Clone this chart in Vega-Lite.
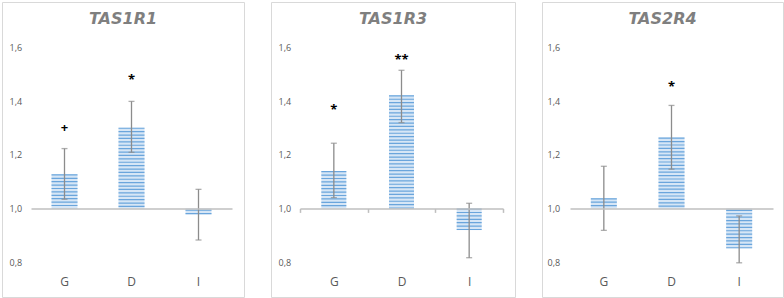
{
  "$schema": "https://vega.github.io/schema/vega-lite/v6.json",
  "padding": {"left": 1, "top": 1, "right": 0, "bottom": 0},
  "bounds": "flush",
  "spacing": 27,
  "background": "white",
  "config": {"view": {"stroke": "#d9d9d9", "strokeWidth": 1}, "font": "Open Sans",
    "axisY": {"labelExpr": "replace(format(datum.value, '.1f'), '.', ',')", "domain": false, "ticks": false, "tickSize": 0, "grid": false, "title": null, "labelAlign": "left", "labelPadding": -7, "labelFontSize": 9, "labelColor": "#595959", "labelFont": "Open Sans"}},
  "datasets": {
    "rows": [
      {"gene": "TAS1R1", "group": "G", "value": 1.127, "lo": 1.034, "hi": 1.223, "sig": "+", "sig_y": 1.285},
      {"gene": "TAS1R1", "group": "D", "value": 1.301, "lo": 1.209, "hi": 1.399, "sig": "*", "sig_y": 1.463},
      {"gene": "TAS1R1", "group": "I", "value": 0.978, "lo": 0.882, "hi": 1.071, "sig": "", "sig_y": null},
      {"gene": "TAS1R3", "group": "G", "value": 1.139, "lo": 1.04, "hi": 1.243, "sig": "*", "sig_y": 1.351},
      {"gene": "TAS1R3", "group": "D", "value": 1.422, "lo": 1.32, "hi": 1.515, "sig": "**", "sig_y": 1.54},
      {"gene": "TAS1R3", "group": "I", "value": 0.919, "lo": 0.816, "hi": 1.019, "sig": "", "sig_y": null},
      {"gene": "TAS2R4", "group": "G", "value": 1.038, "lo": 0.918, "hi": 1.157, "sig": "", "sig_y": null},
      {"gene": "TAS2R4", "group": "D", "value": 1.264, "lo": 1.146, "hi": 1.384, "sig": "*", "sig_y": 1.436},
      {"gene": "TAS2R4", "group": "I", "value": 0.851, "lo": 0.797, "hi": 0.972, "sig": "", "sig_y": null}
    ]
  },
  "hconcat": [
    {
      "width": 242, "height": 295,
      "title": {"text": "TAS1R1", "font": "DejaVu Sans", "fontSize": 16, "fontWeight": "bold", "fontStyle": "italic", "color": "#7f7f7f", "baseline": "alphabetic", "offset": -37.6, "anchor": "middle", "frame": "group"},
      "data": {"name": "rows"},
      "transform": [{"filter": "datum.gene === 'TAS1R1'"}],
      "encoding": {
        "x": {"field": "group", "type": "nominal", "sort": ["G", "D", "I"],
          "scale": {"range": [29, 230], "paddingInner": 0, "paddingOuter": 0},
          "axis": {"orient": "bottom", "offset": -88.6, "title": null, "labelAngle": 0, "domainColor": "#bfbfbf", "domainWidth": 1.5, "ticks": false, "tickSize": 0, "labelPadding": 76.6, "labelBaseline": "alphabetic", "labelFontSize": 12, "labelColor": "#595959", "labelFont": "Open Sans", "zindex": 1}}
      },
      "layer": [
        {"mark": {"type": "bar", "width": 26, "color": "#d6e6f6"},
          "encoding": {"y": {"field": "value", "type": "quantitative", "title": null, "scale": {"domain": [0.8, 1.6], "range": [260, 45.5], "zero": false, "nice": false}, "axis": {"values": [0.8, 1, 1.2, 1.4, 1.6]}},
            "y2": {"datum": 1}}},
        {"mark": {"type": "rule", "strokeWidth": 26, "strokeDash": [1.2, 2.2], "color": "#6aa5dc", "strokeCap": "butt"},
          "encoding": {"y": {"field": "value", "type": "quantitative", "title": null}, "y2": {"datum": 1}}},
        {"mark": {"type": "rule", "color": "#8c8c8c", "strokeWidth": 1.3},
          "encoding": {"y": {"field": "lo", "type": "quantitative", "title": null}, "y2": {"field": "hi"}}},
        {"mark": {"type": "tick", "color": "#8c8c8c", "thickness": 1.3, "size": 6},
          "encoding": {"y": {"field": "lo", "type": "quantitative", "title": null}}},
        {"mark": {"type": "tick", "color": "#8c8c8c", "thickness": 1.3, "size": 6},
          "encoding": {"y": {"field": "hi", "type": "quantitative", "title": null}}},
        {"transform": [{"filter": "datum.sig !== ''"}],
          "mark": {"type": "text", "font": "Open Sans", "fontWeight": "bold", "fontSize": 13, "color": "black", "baseline": "alphabetic", "align": "center"},
          "encoding": {"y": {"field": "sig_y", "type": "quantitative", "title": null}, "text": {"field": "sig"}}}
      ]
    },
    {
      "width": 244, "height": 295,
      "title": {"text": "TAS1R3", "font": "DejaVu Sans", "fontSize": 16, "fontWeight": "bold", "fontStyle": "italic", "color": "#7f7f7f", "baseline": "alphabetic", "offset": -37.6, "anchor": "middle", "frame": "group"},
      "data": {"name": "rows"},
      "transform": [{"filter": "datum.gene === 'TAS1R3'"}],
      "encoding": {
        "x": {"field": "group", "type": "nominal", "sort": ["G", "D", "I"],
          "scale": {"range": [29, 232], "paddingInner": 0, "paddingOuter": 0},
          "axis": {"orient": "bottom", "offset": -88.6, "title": null, "labelAngle": 0, "domainColor": "#bfbfbf", "domainWidth": 1.5, "ticks": true, "tickBand": "extent", "tickColor": "#bfbfbf", "tickWidth": 1.5, "tickSize": 4, "labelPadding": 72.6, "labelBaseline": "alphabetic", "labelFontSize": 12, "labelColor": "#595959", "labelFont": "Open Sans", "zindex": 1}}
      },
      "layer": [
        {"mark": {"type": "bar", "width": 25, "color": "#d6e6f6"},
          "encoding": {"y": {"field": "value", "type": "quantitative", "title": null, "scale": {"domain": [0.8, 1.6], "range": [260, 45.5], "zero": false, "nice": false}, "axis": {"values": [0.8, 1, 1.2, 1.4, 1.6]}},
            "y2": {"datum": 1}}},
        {"mark": {"type": "rule", "strokeWidth": 25, "strokeDash": [1.2, 2.2], "color": "#6aa5dc", "strokeCap": "butt"},
          "encoding": {"y": {"field": "value", "type": "quantitative", "title": null}, "y2": {"datum": 1}}},
        {"mark": {"type": "rule", "color": "#8c8c8c", "strokeWidth": 1.3},
          "encoding": {"y": {"field": "lo", "type": "quantitative", "title": null}, "y2": {"field": "hi"}}},
        {"mark": {"type": "tick", "color": "#8c8c8c", "thickness": 1.3, "size": 6},
          "encoding": {"y": {"field": "lo", "type": "quantitative", "title": null}}},
        {"mark": {"type": "tick", "color": "#8c8c8c", "thickness": 1.3, "size": 6},
          "encoding": {"y": {"field": "hi", "type": "quantitative", "title": null}}},
        {"transform": [{"filter": "datum.sig !== ''"}],
          "mark": {"type": "text", "font": "Open Sans", "fontWeight": "bold", "fontSize": 13, "color": "black", "baseline": "alphabetic", "align": "center"},
          "encoding": {"y": {"field": "sig_y", "type": "quantitative", "title": null}, "text": {"field": "sig"}}}
      ]
    },
    {
      "width": 241, "height": 295,
      "title": {"text": "TAS2R4", "font": "DejaVu Sans", "fontSize": 16, "fontWeight": "bold", "fontStyle": "italic", "color": "#7f7f7f", "baseline": "alphabetic", "offset": -37.6, "anchor": "middle", "frame": "group"},
      "data": {"name": "rows"},
      "transform": [{"filter": "datum.gene === 'TAS2R4'"}],
      "encoding": {
        "x": {"field": "group", "type": "nominal", "sort": ["G", "D", "I"],
          "scale": {"range": [28, 231], "paddingInner": 0, "paddingOuter": 0},
          "axis": {"orient": "bottom", "offset": -88.6, "title": null, "labelAngle": 0, "domainColor": "#bfbfbf", "domainWidth": 1.5, "ticks": false, "tickSize": 0, "labelPadding": 76.6, "labelBaseline": "alphabetic", "labelFontSize": 12, "labelColor": "#595959", "labelFont": "Open Sans", "zindex": 1}}
      },
      "layer": [
        {"mark": {"type": "bar", "width": 26, "color": "#d6e6f6"},
          "encoding": {"y": {"field": "value", "type": "quantitative", "title": null, "scale": {"domain": [0.8, 1.6], "range": [260, 45.5], "zero": false, "nice": false}, "axis": {"values": [0.8, 1, 1.2, 1.4, 1.6], "labelPadding": -5}},
            "y2": {"datum": 1}}},
        {"mark": {"type": "rule", "strokeWidth": 26, "strokeDash": [1.2, 2.2], "color": "#6aa5dc", "strokeCap": "butt"},
          "encoding": {"y": {"field": "value", "type": "quantitative", "title": null}, "y2": {"datum": 1}}},
        {"mark": {"type": "rule", "color": "#8c8c8c", "strokeWidth": 1.3},
          "encoding": {"y": {"field": "lo", "type": "quantitative", "title": null}, "y2": {"field": "hi"}}},
        {"mark": {"type": "tick", "color": "#8c8c8c", "thickness": 1.3, "size": 6},
          "encoding": {"y": {"field": "lo", "type": "quantitative", "title": null}}},
        {"mark": {"type": "tick", "color": "#8c8c8c", "thickness": 1.3, "size": 6},
          "encoding": {"y": {"field": "hi", "type": "quantitative", "title": null}}},
        {"transform": [{"filter": "datum.sig !== ''"}],
          "mark": {"type": "text", "font": "Open Sans", "fontWeight": "bold", "fontSize": 13, "color": "black", "baseline": "alphabetic", "align": "center"},
          "encoding": {"y": {"field": "sig_y", "type": "quantitative", "title": null}, "text": {"field": "sig"}}}
      ]
    }
  ]
}
